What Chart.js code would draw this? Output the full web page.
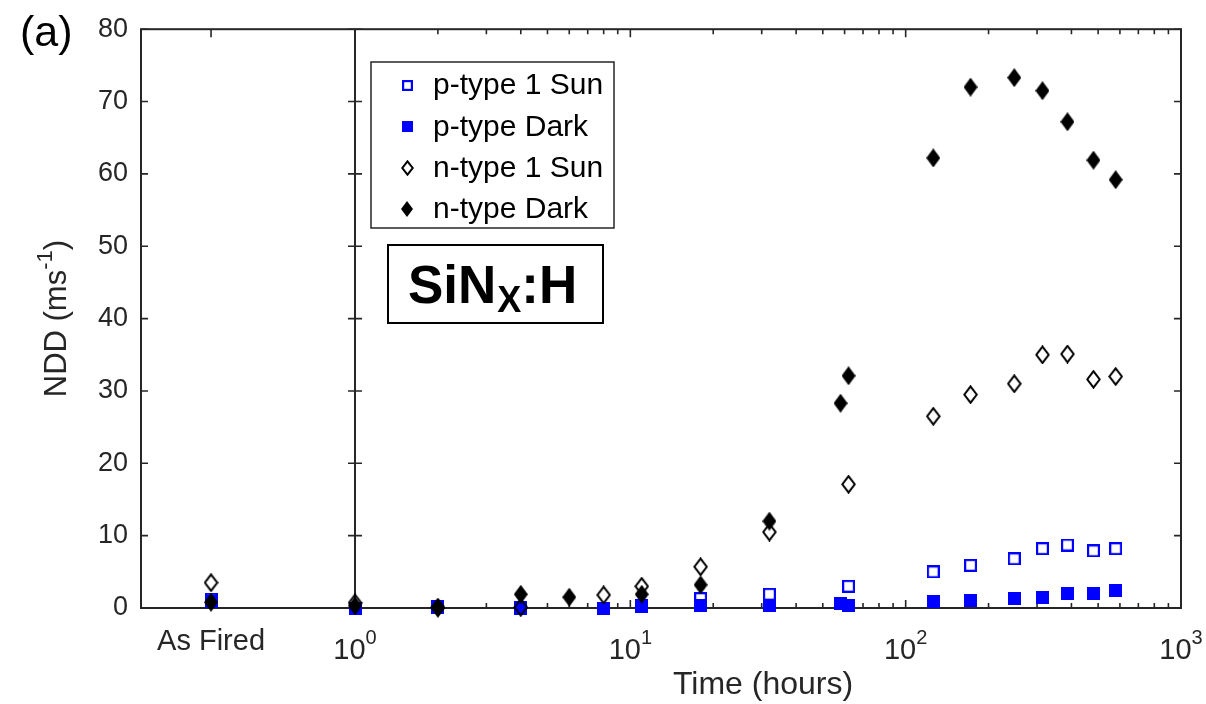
<!DOCTYPE html>
<html>
<head>
<meta charset="utf-8">
<title>NDD vs time</title>
<script src="https://cdn.jsdelivr.net/npm/chart.js@4.4.1/dist/chart.umd.min.js"></script>
<style>
  html, body { margin: 0; padding: 0; background: #fff; }
</style>
</head>
<body>
<canvas id="ndd" width="1206" height="704"></canvas>
<script>
// "As Fired" samples sit left of the 1 h line, at a nominal 0.3 h
var AS_FIRED = 0.3;

// p-type, 1 Sun (open blue squares)
var pSunTime = [AS_FIRED, 1, 2, 4, 8, 11, 18, 32, 62, 126, 172, 248, 314, 387, 481, 579];
var pSunNdd  = [1.2, 0.0, 0.2, 0.0, 0.0, 0.3, 1.3, 1.9, 3.0, 5.0, 5.9, 6.8, 8.2, 8.7, 7.9, 8.2];

// p-type, dark (filled blue squares)
var pDarkTime = [AS_FIRED, 1, 2, 4, 8, 11, 18, 32, 58, 62, 126, 172, 248, 314, 387, 481, 579];
var pDarkNdd  = [0.9, 0.0, 0.1, 0.1, 0.0, 0.25, 0.4, 0.4, 0.6, 0.4, 0.9, 1.1, 1.3, 1.5, 2.0, 2.0, 2.4];

// n-type, 1 Sun (open black diamonds)
var nSunTime = [AS_FIRED, 1, 2, 4, 8, 11, 18, 32, 62, 126, 172, 248, 314, 387, 481, 579];
var nSunNdd  = [3.5, 0.7, 0.1, 0.1, 1.8, 3.0, 5.7, 10.5, 17.1, 26.5, 29.5, 31.0, 35.0, 35.1, 31.6, 32.0];

// n-type, dark (filled black diamonds)
var nDarkTime = [AS_FIRED, 1, 2, 4, 6, 11, 18, 32, 58, 62, 126, 172, 248, 314, 387, 481, 579];
var nDarkNdd  = [0.8, 0.3, 0.0, 1.9, 1.5, 1.9, 3.2, 12.0, 28.3, 32.1, 62.2, 72.0, 73.3, 71.5, 67.2, 61.9, 59.2];

var seriesNames = ['p-type 1 Sun', 'p-type Dark', 'n-type 1 Sun', 'n-type Dark'];

// x axis: labelled positions, text and exponents
var xTickVals = [AS_FIRED, 1, 10, 100, 1000];
var xTickBase = ['As Fired', '10', '10', '10', '10'];
var xTickExp  = ['', '0', '1', '2', '3'];

var FONT = '"Liberation Sans", Arial, Helvetica, sans-serif';
var AXIS_COLOR = '#262626';
var BLUE = '#0000ff';

function makeSquare(size, filled) {
  var c = document.createElement('canvas');
  c.width = size; c.height = size;
  var g = c.getContext('2d');
  if (filled) {
    g.fillStyle = BLUE;
    g.fillRect(0, 0, size, size);
  } else {
    g.strokeStyle = BLUE;
    g.lineWidth = 2.2;
    g.strokeRect(1.1, 1.1, size - 2.2, size - 2.2);
  }
  return c;
}

function makeDiamond(w, h, filled) {
  var c = document.createElement('canvas');
  c.width = w; c.height = h;
  var g = c.getContext('2d');
  var m = filled ? 0 : 1.3;
  g.beginPath();
  g.moveTo(w / 2, m);
  g.lineTo(w - m, h / 2);
  g.lineTo(w / 2, h - m);
  g.lineTo(m, h / 2);
  g.closePath();
  if (filled) {
    g.fillStyle = '#000';
    g.fill();
  } else {
    g.strokeStyle = '#000';
    g.lineWidth = 2;
    g.stroke();
  }
  return c;
}

var markers = [makeSquare(13, false), makeSquare(13, true), makeDiamond(15, 19, false), makeDiamond(14, 19, true)];
var legendMarkers = [makeSquare(11, false), makeSquare(11, true), makeDiamond(13, 16, false), makeDiamond(12, 16, true)];

function points(xs, ys) {
  return xs.map(function (x, i) { return { x: x, y: ys[i] }; });
}

var allTimes = [pSunTime, pDarkTime, nSunTime, nDarkTime];
var allNdd = [pSunNdd, pDarkNdd, nSunNdd, nDarkNdd];

var datasets = seriesNames.map(function (name, i) {
  return {
    label: name,
    data: points(allTimes[i], allNdd[i]),
    pointStyle: markers[i],
    pointRadius: 7,
    pointHoverRadius: 7,
    clip: false,
    order: 3 - i   // later series end up on top
  };
});

function drawPow(ctx, base, exp, cx, baseline, size, expSize, raise) {
  ctx.font = size + 'px ' + FONT;
  var wb = ctx.measureText(base).width;
  ctx.font = expSize + 'px ' + FONT;
  var we = exp ? ctx.measureText(exp).width : 0;
  var x0 = cx - (wb + we) / 2;
  ctx.textAlign = 'left';
  ctx.textBaseline = 'alphabetic';
  ctx.font = size + 'px ' + FONT;
  ctx.fillText(base, x0, baseline);
  if (exp) {
    ctx.font = expSize + 'px ' + FONT;
    ctx.fillText(exp, x0 + wb, baseline - raise);
  }
}

// box, inward ticks and the 1 h divider, drawn under the markers
var axesFrame = {
  id: 'axesFrame',
  beforeDatasetsDraw: function (chart) {
    var ctx = chart.ctx, a = chart.chartArea;
    var xs = chart.scales.x, ys = chart.scales.y;
    ctx.save();
    ctx.strokeStyle = AXIS_COLOR;
    ctx.lineWidth = 2;
    ctx.strokeRect(a.left, a.top, a.right - a.left, a.bottom - a.top);

    var xDiv = xs.getPixelForValue(1);
    ctx.beginPath();
    ctx.moveTo(xDiv, a.top);
    ctx.lineTo(xDiv, a.bottom);
    ctx.stroke();

    ctx.lineWidth = 1.6;
    ctx.beginPath();
    ys.ticks.forEach(function (t) {
      var py = ys.getPixelForValue(t.value);
      ctx.moveTo(a.left, py); ctx.lineTo(a.left + 7, py);
      ctx.moveTo(a.right, py); ctx.lineTo(a.right - 7, py);
      ctx.moveTo(xDiv - 7, py); ctx.lineTo(xDiv + 7, py);
    });
    [AS_FIRED, 10, 100].forEach(function (v) {
      var px = xs.getPixelForValue(v);
      ctx.moveTo(px, a.bottom); ctx.lineTo(px, a.bottom - 8);
      ctx.moveTo(px, a.top); ctx.lineTo(px, a.top + 8);
    });
    [1, 10, 100].forEach(function (dec) {
      for (var m = 2; m <= 9; m++) {
        var px = xs.getPixelForValue(m * dec);
        ctx.moveTo(px, a.bottom); ctx.lineTo(px, a.bottom - 5);
        ctx.moveTo(px, a.top); ctx.lineTo(px, a.top + 5);
      }
    });
    ctx.stroke();
    ctx.restore();
  }
};

// x tick labels with exponents, axis titles, panel letter, legend and film label
var annotations = {
  id: 'annotations',
  afterDraw: function (chart) {
    var ctx = chart.ctx, a = chart.chartArea;
    var xs = chart.scales.x;
    ctx.save();
    ctx.fillStyle = AXIS_COLOR;

    xs.ticks.forEach(function (t) {
      var i = xTickVals.indexOf(t.value);
      if (i < 0) return;
      var px = xs.getPixelForValue(t.value);
      if (xTickExp[i]) {
        drawPow(ctx, xTickBase[i], xTickExp[i], px, 659, 29, 20, 15);
      } else {
        drawPow(ctx, xTickBase[i], '', px, 650, 29, 20, 0);
      }
    });

    // x title, centred on the logarithmic part of the axis
    var xMid = (xs.getPixelForValue(1) + a.right) / 2;
    ctx.font = '32px ' + FONT;
    ctx.textAlign = 'center';
    ctx.textBaseline = 'alphabetic';
    ctx.fillText('Time (hours)', xMid - 5, 694);

    // y title with superscript
    ctx.save();
    ctx.translate(66, (a.top + a.bottom) / 2);
    ctx.rotate(-Math.PI / 2);
    ctx.font = '31px ' + FONT;
    var t1 = 'NDD (ms', t3 = ')';
    var w1 = ctx.measureText(t1).width, w3 = ctx.measureText(t3).width;
    ctx.font = '22px ' + FONT;
    var w2 = ctx.measureText('-1').width;
    var x0 = -(w1 + w2 + w3) / 2;
    ctx.textAlign = 'left';
    ctx.font = '31px ' + FONT;
    ctx.fillText(t1, x0, 0);
    ctx.fillText(t3, x0 + w1 + w2, 0);
    ctx.font = '22px ' + FONT;
    ctx.fillText('-1', x0 + w1, -14);
    ctx.restore();

    // panel letter
    ctx.fillStyle = '#000';
    ctx.font = '43px ' + FONT;
    ctx.textAlign = 'left';
    ctx.fillText('(a)', 20, 46);

    // legend
    ctx.fillStyle = '#fff';
    ctx.fillRect(371, 62, 243, 166);
    ctx.strokeStyle = AXIS_COLOR;
    ctx.lineWidth = 1.5;
    ctx.strokeRect(371, 62, 243, 166);
    ctx.font = '30px ' + FONT;
    ctx.textBaseline = 'middle';
    ctx.fillStyle = '#000';
    seriesNames.forEach(function (name, i) {
      var cy = 85 + i * 41.3;
      var mk = legendMarkers[i];
      ctx.drawImage(mk, Math.round(407 - mk.width / 2), Math.round(cy - mk.height / 2));
      ctx.fillText(name, 433, cy + 1);
    });

    // film label
    ctx.fillStyle = '#fff';
    ctx.fillRect(388, 245, 215, 78);
    ctx.strokeStyle = '#000';
    ctx.lineWidth = 2;
    ctx.strokeRect(388, 245, 215, 78);
    ctx.fillStyle = '#000';
    ctx.textBaseline = 'alphabetic';
    var bx = 408, by = 303;
    ctx.font = 'bold 53px ' + FONT;
    ctx.fillText('SiN', bx, by);
    bx += ctx.measureText('SiN').width + 1;
    ctx.font = 'bold 36px ' + FONT;
    ctx.fillText('X', bx, by + 9);
    bx += ctx.measureText('X').width;
    ctx.font = 'bold 53px ' + FONT;
    ctx.fillText(':H', bx, by);

    ctx.restore();
  }
};

new Chart(document.getElementById('ndd'), {
  type: 'scatter',
  data: { datasets: datasets },
  options: {
    responsive: false,
    animation: false,
    devicePixelRatio: 1,
    layout: { padding: { left: 0, right: 25, top: 29, bottom: 0 } },
    plugins: {
      legend: { display: false },
      tooltip: { enabled: false }
    },
    scales: {
      x: {
        type: 'logarithmic',
        min: 0.167,
        max: 1000,
        grid: { display: false, drawTicks: false },
        border: { display: false },
        ticks: { display: false },
        afterBuildTicks: function (scale) {
          scale.ticks = xTickVals.map(function (v) { return { value: v }; });
        },
        afterFit: function (scale) { scale.height = 96; }
      },
      y: {
        min: 0,
        max: 80,
        grid: { display: false, drawTicks: false },
        border: { display: false },
        ticks: {
          stepSize: 10,
          padding: 13,
          color: AXIS_COLOR,
          font: { family: FONT, size: 27 }
        },
        afterFit: function (scale) { scale.width = 141; }
      }
    }
  },
  plugins: [axesFrame, annotations]
});
</script>
</body>
</html>
